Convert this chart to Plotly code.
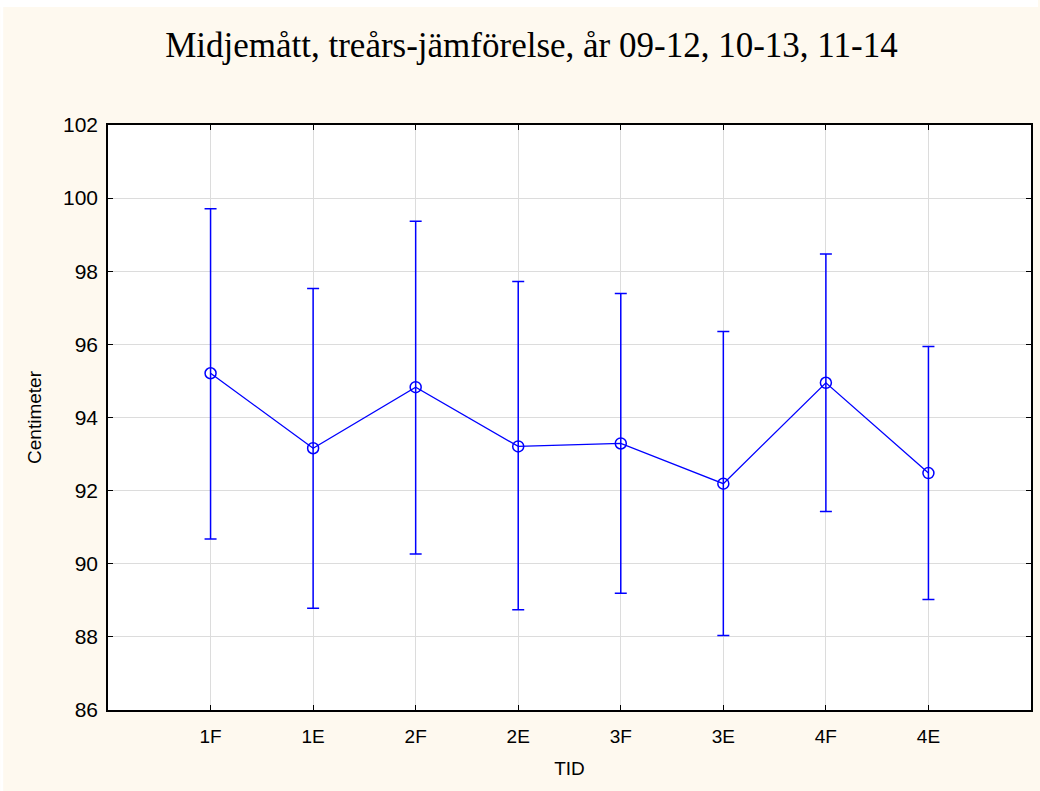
import plotly.graph_objects as go

# Midjemått per tidpunkt: medelvärde med övre/nedre gräns
categories = ["1F", "1E", "2F", "2E", "3F", "3E", "4F", "4E"]
means = [95.21, 93.16, 94.83, 93.21, 93.29, 92.19, 94.95, 92.48]
upper = [99.71, 97.53, 99.37, 97.72, 97.39, 96.35, 98.47, 95.94]
lower = [90.68, 88.78, 90.27, 88.74, 89.19, 88.04, 91.43, 89.02]
y_ticks = [86, 88, 90, 92, 94, 96, 98, 100, 102]

BLUE = "#0000FF"
PAPER = "#FEF9EF"
W, H = 1040, 791
L, R, T, B = 108, 7, 125, 81

xs = list(range(len(categories)))
err_plus = [u - m for u, m in zip(upper, means)]
err_minus = [m - l for m, l in zip(means, lower)]

fig = go.Figure()
fig.add_trace(go.Scatter(
    x=xs, y=means,
    mode="lines+markers",
    line=dict(color=BLUE, width=1.3),
    marker=dict(symbol="circle-open", size=11, color=BLUE, line=dict(width=1.5, color=BLUE)),
    error_y=dict(type="data", symmetric=False, array=err_plus, arrayminus=err_minus,
                 color=BLUE, thickness=1.5, width=6),
    showlegend=False,
))

pw = W - L - R
ph = H - T - B
# thin white strips along the top and left page edges
fig.add_shape(type="rect", xref="paper", yref="paper",
              x0=-L / pw, x1=(W - L) / pw, y0=1 + (T - 7) / ph, y1=1 + T / ph,
              fillcolor="white", line=dict(width=0), layer="above")
fig.add_shape(type="rect", xref="paper", yref="paper",
              x0=-L / pw, x1=(3 - L) / pw, y0=-B / ph, y1=1 + T / ph,
              fillcolor="white", line=dict(width=0), layer="above")

fig.update_layout(
    width=W, height=H,
    margin=dict(l=L, r=R, t=T, b=B),
    paper_bgcolor=PAPER,
    plot_bgcolor="white",
    title=dict(text="Midjemått, treårs-jämförelse, år 09-12, 10-13, 11-14",
               x=0.511, xanchor="center", y=0.943, yanchor="middle",
               font=dict(family="Liberation Serif", size=35, color="black")),
    font=dict(family="Liberation Sans", size=18, color="black"),
)
fig.update_xaxes(
    range=[-1, 8], tickmode="array", tickvals=xs, ticktext=categories,
    showgrid=True, gridcolor="#DCDCDC", gridwidth=1,
    showline=True, linecolor="black", linewidth=1.5, mirror="ticks",
    ticks="inside", ticklen=5, tickcolor="black",
    zeroline=False, ticklabelstandoff=8,
    title=dict(text="TID", font=dict(size=19), standoff=16),
    tickfont=dict(size=19),
)
fig.update_yaxes(
    range=[86, 102], tickmode="array", tickvals=y_ticks,
    showgrid=True, gridcolor="#DCDCDC", gridwidth=1,
    showline=True, linecolor="black", linewidth=1.5, mirror="ticks",
    ticks="inside", ticklen=5, tickcolor="black",
    zeroline=False, ticklabelstandoff=4,
    title=dict(text="Centimeter", font=dict(size=19), standoff=16),
    tickfont=dict(size=21),
)

fig.write_html("out.html")
